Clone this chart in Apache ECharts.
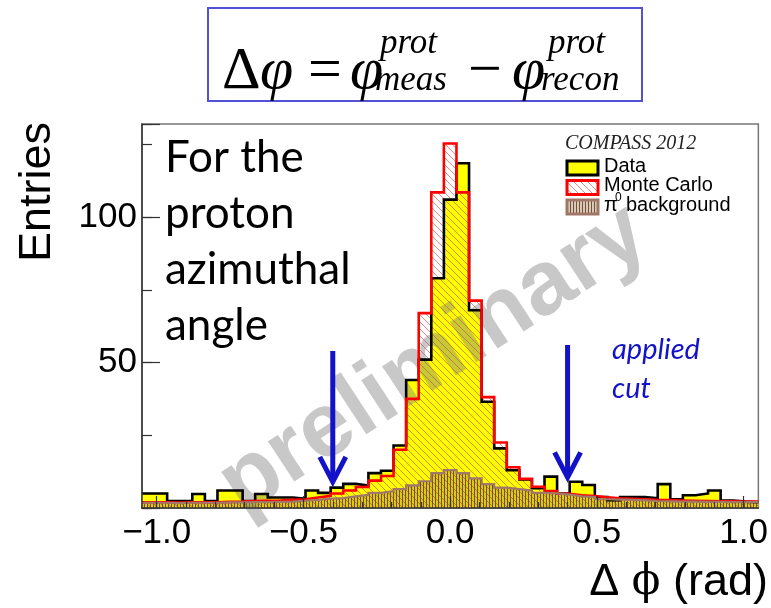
<!DOCTYPE html>
<html><head><meta charset="utf-8">
<script src="https://cdn.jsdelivr.net/npm/echarts@6/dist/echarts.min.js"></script>
<style>html,body{margin:0;padding:0;background:#fff}#c{width:771px;height:608px}</style>
</head><body><div id="c"></div>
<script>
// ---------------- data ----------------
const xMin = -1.05, xMax = 1.05;          // histogram range (rad)
const nBins = 49;
const dataCounts = [5,5,2.4,2.4,4.8,2.4,6,6,2.4,4.8,3.6,3.6,3.2,6.0,5.2,7.0,8.3,7.7,12.0,12.8,21.5,44,51,79,106,118.5,68,36.5,20.5,13,9.8,6.8,10.8,5,9,7.9,3.8,2.7,3.8,3.8,3.3,8.2,3.0,4.4,5.0,6.0,2.6,2.2,2.0];
const mcCounts = [2.0,2.0,1.9,2.0,2.0,2.0,2.1,2.2,2.4,2.5,2.6,2.8,3.0,3.6,4.2,5.0,6.0,7.2,9.4,11.0,20.0,37.5,67,108.5,125.3,108.5,71.3,38.1,22.5,14.0,10.0,7.3,5.8,4.9,4.4,4.1,3.7,3.3,3.2,3.0,2.8,2.7,2.6,2.5,2.4,2.3,2.3,2.2,2.2];
const bkgCounts = [1.8,1.8,1.7,1.8,1.8,1.8,1.9,1.9,2.0,2.0,2.1,2.2,2.5,2.8,3.2,3.4,4.0,4.5,5.2,5.8,6.5,7.8,9.2,12.0,13.0,12.0,10.2,8.2,7.0,6.5,6.0,5.2,5.0,4.6,4.0,3.8,3.0,2.9,2.8,2.6,2.4,2.3,2.2,2.2,2.1,2.1,2.0,2.0,2.0];
const xTickLabels = [-1.0, -0.5, 0.0, 0.5, 1.0];
const yTickLabels = [50, 100];
const cutValues = [-0.4, 0.4];
const arrowTop = [54, 56];
const arrowTip = [9, 10.5];
const legendNames = ['Data', 'Monte Carlo', 'background'];

// ---------------- helpers ----------------
const binW = (xMax - xMin) / nBins;
function stepSeriesData(values) {
  const d = [];
  for (let k = 0; k < values.length; k++) d.push([xMin + k * binW, values[k]]);
  d.push([xMax, values[values.length - 1]]);
  return d;
}
const minorTicks = [];
for (let i = -10; i <= 10; i++) minorTicks.push(i / 10);

function makeHatch() {
  const c = document.createElement('canvas'); c.width = 7; c.height = 7;
  const g = c.getContext('2d');
  g.strokeStyle = 'rgba(235,50,50,0.6)'; g.lineWidth = 1;
  g.beginPath();
  g.moveTo(-1, -1); g.lineTo(8, 8);
  g.moveTo(-1, 6); g.lineTo(1, 8);
  g.moveTo(6, -1); g.lineTo(8, 1);
  g.stroke();
  return c;
}
function makeVert() {
  const c = document.createElement('canvas'); c.width = 3; c.height = 4;
  const g = c.getContext('2d');
  g.fillStyle = 'rgba(150,100,60,0.35)'; g.fillRect(0, 0, 3, 4);
  g.fillStyle = 'rgba(105,70,40,0.9)'; g.fillRect(0, 0, 1, 4);
  return c;
}
const hatchImg = makeHatch(), vertImg = makeVert();
const mcFill = { type: 'pattern', image: hatchImg, repeat: 'repeat' };
const bkgFill = { type: 'pattern', image: vertImg, repeat: 'repeat' };

const SANS = 'Liberation Sans';
const fmtX = v => (v < 0 ? '\u2212' : '') + Math.abs(v).toFixed(1);

const chart = echarts.init(document.getElementById('c'), null, { renderer: 'canvas' });

function areaSeries(vals, color) {
  return { type: 'line', step: 'end', data: stepSeriesData(vals), symbol: 'none', silent: true,
    lineStyle: { width: 0, opacity: 0 }, areaStyle: { color: color, opacity: 1 }, z: 1, animation: false };
}
function lineSeries(vals, color, w) {
  return { type: 'line', step: 'end', data: stepSeriesData(vals), symbol: 'none', silent: true,
    lineStyle: { color: color, width: w, join: 'miter' }, z: 3, animation: false };
}

chart.setOption({
  animation: false,
  grid: { left: 142, right: 9, top: 124, bottom: 100, show: true, borderColor: '#777', borderWidth: 1.5, backgroundColor: '#fff' },
  xAxis: [
    { type: 'value', min: xMin, max: xMax, gridIndex: 0, position: 'bottom', z: 4,
      axisLine: { show: true, onZero: false, lineStyle: { color: '#333', width: 1.5 } },
      axisTick: { show: true, inside: true, length: 6, customValues: minorTicks, lineStyle: { color: '#333', width: 1.2 } },
      axisLabel: { customValues: xTickLabels, formatter: fmtX, fontFamily: SANS, fontSize: 35, color: '#000', margin: 8 },
      splitLine: { show: false } },
    { type: 'value', min: xMin, max: xMax, gridIndex: 0, position: 'bottom', z: 4,
      axisLine: { show: false, onZero: false },
      axisTick: { show: true, inside: true, length: 12, customValues: xTickLabels, lineStyle: { color: '#333', width: 1.2 } },
      axisLabel: { show: false }, splitLine: { show: false } }
  ],
  yAxis: [
    { type: 'value', min: 0, max: 132, interval: 50, gridIndex: 0, position: 'left', z: 4,
      axisLine: { show: true, onZero: false, lineStyle: { color: '#333', width: 1.5 } },
      axisTick: { show: true, inside: true, length: 18, lineStyle: { color: '#333', width: 1.2 } },
      axisLabel: { formatter: v => (yTickLabels.indexOf(v) >= 0 ? String(v) : ''), fontFamily: SANS, fontSize: 35, color: '#000', margin: 5 },
      splitLine: { show: false } },
    { type: 'value', min: 0, max: 132, interval: 25, gridIndex: 0, position: 'left', z: 4,
      axisLine: { show: false, onZero: false },
      axisTick: { show: true, inside: true, length: 10, lineStyle: { color: '#333', width: 1.2 } },
      axisLabel: { show: false }, splitLine: { show: false } }
  ],
  series: [
    areaSeries(dataCounts, '#ffff00'),
    areaSeries(mcCounts, mcFill),
    areaSeries(bkgCounts, bkgFill),
    lineSeries(dataCounts, '#000000', 2.6),
    lineSeries(mcCounts, '#ff0000', 2.6),
    lineSeries(bkgCounts, '#a07868', 2.2)
  ]
});

// ----- annotations (positions of arrows through the axes' scales) -----
const blue = '#1212c8';
const els = [];
cutValues.forEach((cx, i) => {
  const top = chart.convertToPixel({ gridIndex: 0 }, [cx, arrowTop[i]]);
  const tip = chart.convertToPixel({ gridIndex: 0 }, [cx, arrowTip[i]]);
  els.push({ type: 'line', z: 6, shape: { x1: top[0], y1: top[1], x2: tip[0], y2: tip[1] - 2 }, style: { stroke: blue, lineWidth: 5 } });
  els.push({ type: 'polyline', z: 6, shape: { points: [[tip[0] - 13, tip[1] - 25], [tip[0], tip[1]], [tip[0] + 13, tip[1] - 25]] },
    style: { stroke: blue, lineWidth: 5, fill: null, lineJoin: 'miter' } });
});

// watermark
els.push({ type: 'text', z: 2, x: 434, y: 360, rotation: 0.58,
  style: { text: 'preliminary', font: 'bold 91px "Liberation Sans"', fill: 'rgba(125,125,125,0.42)', align: 'center', verticalAlign: 'middle' } });

// formula box
els.push({ type: 'rect', z: 5, shape: { x: 208, y: 8, width: 434, height: 93 }, style: { fill: '#fff', stroke: '#5252d6', lineWidth: 2 } });
const fMain = (t, x, italic) => ({ type: 'text', z: 6, x: x, y: 72,
  style: { text: t, font: (italic ? 'italic ' : '') + '60px "Liberation Serif"', fill: '#000', align: 'left', verticalAlign: 'middle' } });
const fSmall = (t, x, y) => ({ type: 'text', z: 6, x: x, y: y,
  style: { text: t, font: 'italic 35px "Liberation Serif"', fill: '#000', align: 'left', verticalAlign: 'middle' } });
els.push(fMain('\u0394', 222, false), fMain('\u03c6', 260, true), fMain('=', 308, false), fMain('\u03c6', 350, true),
  fSmall('prot', 380, 44), fSmall('meas', 375, 81), fMain('\u2212', 468, false), fMain('\u03c6', 512, true),
  fSmall('prot', 548, 44), fSmall('recon', 541, 81));

// axis titles
els.push({ type: 'text', z: 6, x: 38, y: 192, rotation: Math.PI / 2,
  style: { text: 'Entries', font: '45px "Liberation Sans"', fill: '#000', align: 'center', verticalAlign: 'middle' } });
els.push({ type: 'text', z: 6, x: 768, y: 583,
  style: { text: '{a|\u0394 }{p|\u03d5}{a| (rad)}', align: 'right', verticalAlign: 'middle',
    rich: { a: { fontFamily: SANS, fontSize: 45, fill: '#000' }, p: { fontFamily: 'DejaVu Serif', fontSize: 42, fill: '#000' } } } });

// legend
els.push({ type: 'text', z: 6, x: 565, y: 143.5, style: { text: 'COMPASS 2012', font: 'italic 20px "Liberation Serif"', fill: '#222', align: 'left', verticalAlign: 'middle' } });
els.push({ type: 'rect', z: 6, shape: { x: 567, y: 161, width: 31, height: 14 }, style: { fill: '#ffff00', stroke: '#000', lineWidth: 3 } });
els.push({ type: 'rect', z: 6, shape: { x: 567, y: 180.5, width: 31, height: 14 }, style: { fill: mcFill, stroke: '#ff0000', lineWidth: 3 } });
els.push({ type: 'rect', z: 6, shape: { x: 567, y: 200, width: 31, height: 14 }, style: { fill: bkgFill, stroke: '#a07868', lineWidth: 3 } });
els.push({ type: 'text', z: 6, x: 604, y: 166, style: { text: legendNames[0], font: '20px "Liberation Sans"', fill: '#000', align: 'left', verticalAlign: 'middle' } });
els.push({ type: 'text', z: 6, x: 604, y: 185.5, style: { text: legendNames[1], font: '20px "Liberation Sans"', fill: '#000', align: 'left', verticalAlign: 'middle' } });
els.push({ type: 'text', z: 6, x: 604, y: 205.5, style: { text: '\u03c0', font: '20px "Liberation Sans"', fill: '#000', align: 'left', verticalAlign: 'middle' } });
els.push({ type: 'text', z: 6, x: 615, y: 198, style: { text: '0', font: '12px "Liberation Sans"', fill: '#000', align: 'left', verticalAlign: 'middle' } });
els.push({ type: 'text', z: 6, x: 626, y: 205.5, style: { text: legendNames[2], font: '20px "Liberation Sans"', fill: '#000', align: 'left', verticalAlign: 'middle' } });

// slide annotations
els.push({ type: 'text', z: 6, x: 165, y: 130,
  style: { text: 'For the\nproton\nazimuthal\nangle', font: '44px Lato', lineHeight: 56, fill: '#000', align: 'left', verticalAlign: 'top' } });
els.push({ type: 'text', z: 6, x: 612, y: 350, style: { text: 'applied', font: 'italic 29px Lato', fill: blue, align: 'left', verticalAlign: 'middle' } });
els.push({ type: 'text', z: 6, x: 612, y: 389, style: { text: 'cut', font: 'italic 29px Lato', fill: blue, align: 'left', verticalAlign: 'middle' } });

chart.setOption({ graphic: { elements: els } });
</script>
</body></html>
